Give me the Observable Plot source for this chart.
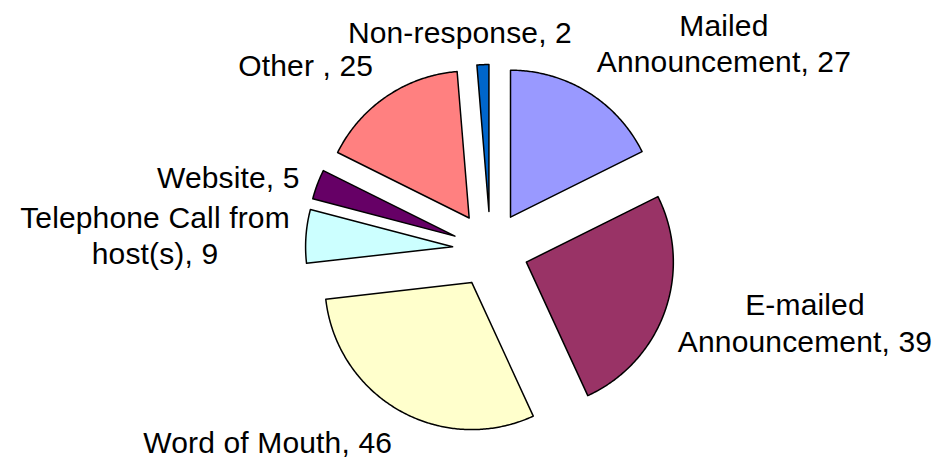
<!DOCTYPE html>
<html>
<head>
<meta charset="utf-8">
<script src="https://cdn.jsdelivr.net/npm/d3@7"></script>
<script src="https://cdn.jsdelivr.net/npm/@observablehq/plot@0.6"></script>
<style>
  html, body { margin: 0; padding: 0; background: #ffffff; }
  #chart svg { display: block; }
</style>
</head>
<body>
<div id="chart"></div>
<script>
// ---- data ----
const categories = [
  "Mailed Announcement",
  "E-mailed Announcement",
  "Word of Mouth",
  "Telephone Call from host(s)",
  "Website",
  "Other ",
  "Non-response"
];
const values = [27, 39, 46, 9, 5, 25, 2];
const labelTexts = [
  "Mailed\nAnnouncement, 27",
  "E-mailed\nAnnouncement, 39",
  "Word of Mouth, 46",
  "Telephone Call from\nhost(s), 9",
  "Website, 5",
  "Other , 25",
  "Non-response, 2"
];
const colors = ["#9999FF", "#993366", "#FFFFCC", "#CCFFFF", "#660066", "#FF8080", "#0066CC"];

// ---- layout (pixels) ----
const W = 939, H = 463;
const cx = 490, cy = 249, R = 147, explode = 38;
const labelNudge = [[136, -20], [140, 41], [-132, 42], [-151, 28], [-89, 4], [-81, -20], [-23, -22]];

// pie geometry in pie units (radius = 1, y up)
const total = d3.sum(values);
const e = explode / R;
const slices = [];
const points = [];
let acc = 0;
values.forEach((v, i) => {
  const a0 = acc / total * 2 * Math.PI;
  acc += v;
  const a1 = acc / total * 2 * Math.PI;
  const am = (a0 + a1) / 2;
  const vx = e * Math.sin(am), vy = e * Math.cos(am);
  const name = categories[i];
  points.push({name, x: vx, y: vy});
  const n = Math.max(4, Math.ceil((a1 - a0) / 0.01));
  for (let k = 0; k <= n; k++) {
    const a = a0 + (a1 - a0) * k / n;
    points.push({name, x: vx + Math.sin(a), y: vy + Math.cos(a)});
  }
  points.push({name, x: vx, y: vy});
  slices.push({name, label: labelTexts[i], lx: vx + Math.sin(am), ly: vy + Math.cos(am)});
});

const chart = Plot.plot({
  width: W,
  height: H,
  marginTop: 0, marginRight: 0, marginBottom: 0, marginLeft: 0,
  style: "background: #ffffff; letter-spacing: 0.15px;",
  x: {domain: [-cx / R, (W - cx) / R], range: [0, W], axis: null},
  y: {domain: [-(H - cy) / R, cy / R], range: [H, 0], axis: null},
  color: {domain: categories, range: colors},
  marks: [
    Plot.line(points, {
      x: "x", y: "y", z: "name", fill: "name",
      stroke: "#000000", strokeWidth: 1.5, strokeLinejoin: "round", curve: "linear"
    }),
    ...slices.map((s, i) => Plot.text([s], {
      x: "lx", y: "ly", text: "label",
      dx: labelNudge[i][0], dy: labelNudge[i][1],
      textAnchor: "middle", lineAnchor: "bottom", lineHeight: 1.22,
      fontSize: 30, fontFamily: "Liberation Sans, Arial, sans-serif", fill: "#000000"
    }))
  ]
});
document.getElementById("chart").appendChild(chart);
</script>
</body>
</html>
